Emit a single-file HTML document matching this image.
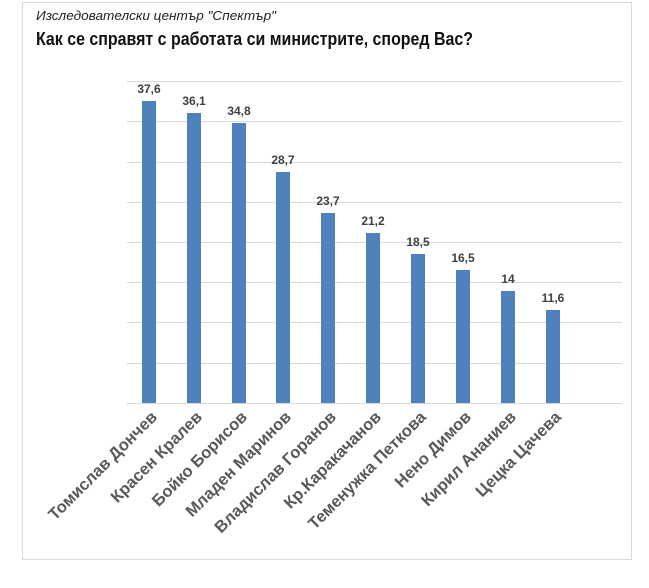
<!DOCTYPE html>
<html><head><meta charset="utf-8"><style>
body{margin:0;background:#fff;width:649px;height:583px;overflow:hidden}
</style></head><body>
<svg width="649" height="583" xmlns="http://www.w3.org/2000/svg" font-family="Liberation Sans, DejaVu Sans, sans-serif">
<rect x="22.5" y="2.5" width="609" height="557" fill="#fff" stroke="#d9d9d9"/>
<text x="36" y="20" font-size="13" font-style="italic" fill="#222" textLength="240" lengthAdjust="spacingAndGlyphs">Изследователски център "Спектър"</text>
<text x="36" y="45" font-size="18" font-weight="bold" fill="#111" textLength="437" lengthAdjust="spacingAndGlyphs">Как се справят с работата  си министрите, според Вас?</text>
<g stroke="#d9d9d9" stroke-width="1">
<line x1="127" x2="622" y1="81.5" y2="81.5"/><line x1="127" x2="622" y1="121.5" y2="121.5"/>
<line x1="127" x2="622" y1="162.5" y2="162.5"/><line x1="127" x2="622" y1="202.5" y2="202.5"/>
<line x1="127" x2="622" y1="242.5" y2="242.5"/><line x1="127" x2="622" y1="282.5" y2="282.5"/>
<line x1="127" x2="622" y1="322.5" y2="322.5"/><line x1="127" x2="622" y1="363.5" y2="363.5"/>
<line x1="127" x2="622" y1="403.5" y2="403.5"/>
</g>
<g fill="#4f81bd">
<rect x="142" y="101" width="14" height="302"/>
<rect x="187" y="113" width="14" height="290"/>
<rect x="232" y="123" width="14" height="280"/>
<rect x="276" y="172" width="14" height="231"/>
<rect x="321" y="213" width="14" height="190"/>
<rect x="366" y="233" width="14" height="170"/>
<rect x="411" y="254" width="14" height="149"/>
<rect x="456" y="270" width="14" height="133"/>
<rect x="501" y="291" width="14" height="112"/>
<rect x="546" y="310" width="14" height="93"/>
</g>
<g font-size="12" font-weight="bold" fill="#404040" text-anchor="middle">
<text x="149" y="93">37,6</text><text x="194" y="105">36,1</text><text x="239" y="115">34,8</text>
<text x="283" y="164">28,7</text><text x="328" y="205">23,7</text><text x="373" y="225">21,2</text>
<text x="418" y="246">18,5</text><text x="463" y="262">16,5</text><text x="508" y="283">14</text>
<text x="553" y="302">11,6</text>
</g>
<g font-size="16.5" font-weight="bold" fill="#595959" text-anchor="end">
<text transform="translate(158,418) rotate(-45)">Томислав Дончев</text>
<text transform="translate(203,418) rotate(-45)">Красен Кралев</text>
<text transform="translate(248,418) rotate(-45)">Бойко Борисов</text>
<text transform="translate(292,418) rotate(-45)">Младен Маринов</text>
<text transform="translate(337,418) rotate(-45)">Владислав Горанов</text>
<text transform="translate(382,418) rotate(-45)">Кр.Каракачанов</text>
<text transform="translate(427,418) rotate(-45)">Теменужка Петкова</text>
<text transform="translate(472,418) rotate(-45)">Нено Димов</text>
<text transform="translate(517,418) rotate(-45)">Кирил Ананиев</text>
<text transform="translate(562,418) rotate(-45)">Цецка Цачева</text>
</g>
</svg>
</body></html>
